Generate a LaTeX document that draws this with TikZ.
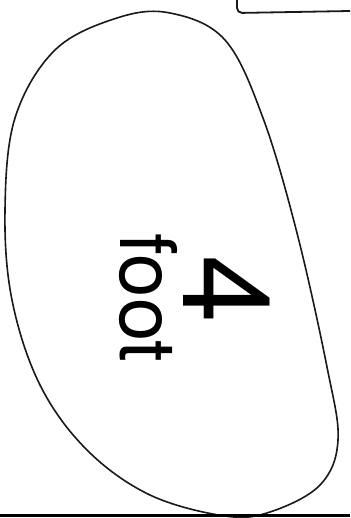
\documentclass[tikz,border=0pt]{standalone}
\usepackage{fontspec}
\setmainfont{TeX Gyre Heros}
\begin{document}
\begin{tikzpicture}[x=1pt,y=-1pt,
  outline/.style={draw=black!90,line width=1.6pt},
  lbl/.style={rotate=-90,inner sep=0pt,anchor=center}]
\useasboundingbox (0,0) rectangle (350,518);
\draw[outline] plot[smooth cycle,tension=0.6] coordinates {
 (170,13) (225,40) (263,118) (297,233) (327,367) (338,440)
 (320,485) (270,512) (225,516) (150,495) (87,450) (40,385)
 (12,300) (5,210) (15,118) (55,50) (117,18)};
\draw[outline,line width=1.8pt,rounded corners=5pt] (237,-2) -- (237,13) -- (350,11);
\draw[line width=2.2pt] (0,515.5) -- (350,515.5);
\node[lbl,font=\fontsize{122}{122}\selectfont] (four) at (226.5,289) {4};
\node[lbl,font=\fontsize{78}{80}\selectfont] (foot) at (148,298) {foot};
\end{tikzpicture}
\end{document}
